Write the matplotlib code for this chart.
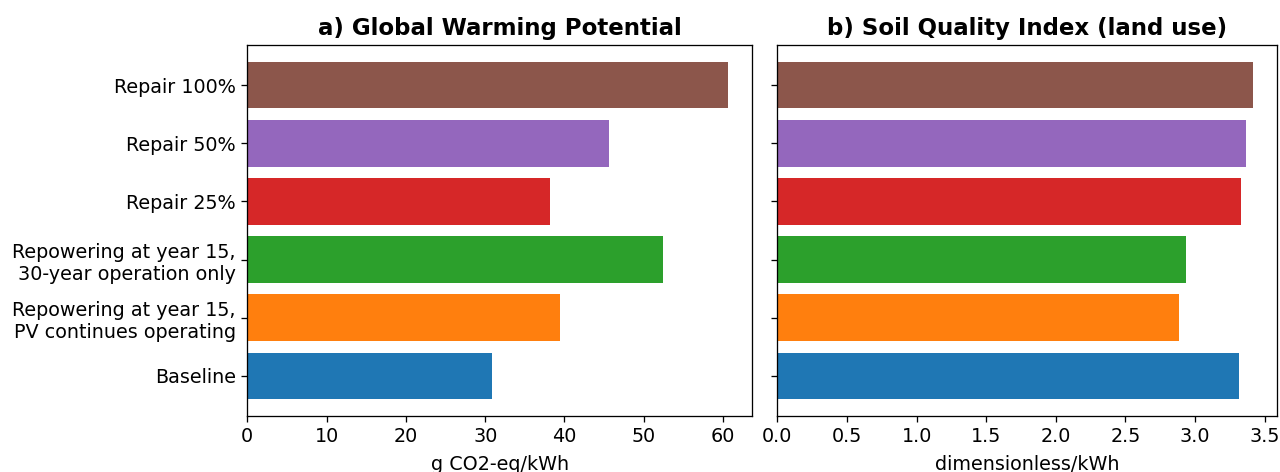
import matplotlib
matplotlib.use("Agg")
import matplotlib.pyplot as plt

scenarios = [
    "Baseline",
    "Repowering at year 15,\nPV continues operating",
    "Repowering at year 15,\n30-year operation only",
    "Repair 25%",
    "Repair 50%",
    "Repair 100%",
]
gwp = [30.8, 39.4, 52.4, 38.2, 45.65, 60.65]
soil_quality = [3.314, 2.884, 2.934, 3.333, 3.362, 3.415]
colors = ["tab:blue", "tab:orange", "tab:green", "tab:red", "tab:purple", "tab:brown"]

# the reference looks like a slightly upscaled render, so scale sizes up a bit
s = 1.17
plt.rcParams.update({
    "axes.linewidth": 0.8 * s,
    "xtick.major.size": 3.5 * s,
    "ytick.major.size": 3.5 * s,
    "xtick.major.width": 0.8 * s,
    "ytick.major.width": 0.8 * s,
    "xtick.major.pad": 3.5 * s,
    "ytick.major.pad": 3.5 * s,
    "axes.titlepad": 6 * s,
    "axes.labelpad": 6,
})

fig = plt.figure(figsize=(12.8, 4.72), dpi=100)
W, H = 1280, 472
ax1 = fig.add_axes([247.3 / W, 1 - 416 / H, 505 / W, 371 / H])
ax2 = fig.add_axes([777.3 / W, 1 - 416 / H, 499.4 / W, 371 / H], sharey=ax1)

ax1.barh(scenarios, gwp, color=colors)
ax1.set_title("a) Global Warming Potential", fontsize=16.5, fontweight="bold")
ax1.set_xlabel("g CO2-eq/kWh", fontsize=13.8)
ax1.tick_params(labelsize=13.8)

ax2.barh(scenarios, soil_quality, color=colors)
ax2.set_title("b) Soil Quality Index (land use)", fontsize=16.5, fontweight="bold")
ax2.set_xlabel("dimensionless/kWh", fontsize=13.8)
ax2.tick_params(labelsize=13.8)
ax2.tick_params(axis="y", labelleft=False)

fig.savefig("out.png", dpi=100)
